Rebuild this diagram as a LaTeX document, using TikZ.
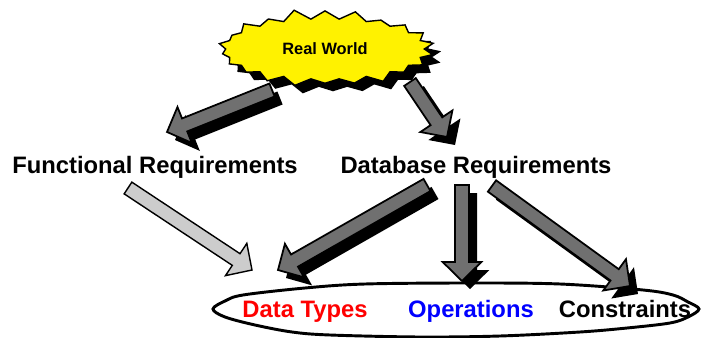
\documentclass[tikz,border=0pt]{standalone}
\usepackage{fontspec}
\setmainfont{Liberation Sans}
\usetikzlibrary{calc,shapes.symbols,shadows}

\definecolor{arrowgray}{RGB}{112,112,112}
\definecolor{palegray}{RGB}{204,204,204}

% block arrow from #2 to #3, drawn with style #1
\newcommand{\blockarrow}[3][bigarrow]{%
  \coordinate (hb) at ($(#3)!0.57cm!(#2)$);
  \path[#1] ($(#2)!0.21cm!90:(#3)$) -- ($(hb)!0.21cm!-90:(#2)$)
    -- ($(hb)!0.58cm!-90:(#2)$) -- (#3) -- ($(hb)!0.58cm!90:(#2)$)
    -- ($(hb)!0.21cm!90:(#2)$) -- ($(#2)!0.21cm!-90:(#3)$) -- cycle;
}

\tikzset{
  blackshadow/.style={drop shadow={shadow xshift=0.24cm, shadow yshift=-0.24cm, opacity=1, fill=black}},
  bigarrow/.style={draw=black, line width=1.5pt, line join=miter, fill=arrowgray, blackshadow},
  lightarrow/.style={draw=black, line width=1.2pt, line join=miter, fill=palegray},
  reqtext/.style={anchor=base, inner sep=0pt, font=\bfseries\fontsize{20.3}{24}\selectfont},
  itemtext/.style={reqtext},
}

\begin{document}
\begin{tikzpicture}[x=0.03cm, y=-0.03cm]
  \useasboundingbox (0,0) rectangle (701,338);

  % outline round the three parts
  \draw[line width=2.5pt, fill=white] plot[smooth cycle, tension=0.55] coordinates {
    (213,309) (225,301) (243,295) (305,288) (365,284) (470,283) (560,284)
    (643,290) (673,295) (688,302) (699,309) (688,317) (670,323) (627,328)
    (580,332) (500,336) (420,337) (330,335) (292,332) (255,325) (225,317)};

  \node[itemtext, red] (types) at (305,317) {Data Types};
  \node[itemtext, blue] (ops) at (471,317) {Operations};
  \node[itemtext] (cons) at (625,317) {Constraints};

  \node[reqtext] (func) at (155,173) {Functional Requirements};
  \node[reqtext] (db) at (476,173) {Database Requirements};

  % arrow ends
  \coordinate (w-func) at (272,90);
  \coordinate (func-in) at (167,132);
  \coordinate (w-db) at (410,82);
  \coordinate (db-in) at (447,137);
  \coordinate (func-out) at (128,188);
  \coordinate (types-in) at (252,270);
  \coordinate (db-types) at (427,185);
  \coordinate (types-db) at (278,270);
  \coordinate (db-ops) at (462,185);
  \coordinate (ops-in) at (462,281);
  \coordinate (db-cons) at (492,186);
  \coordinate (cons-in) at (630,286);

  \blockarrow[lightarrow]{func-out}{types-in}
  \blockarrow{db-types}{types-db}
  \blockarrow{db-ops}{ops-in}
  \blockarrow{db-cons}{cons-in}
  \blockarrow{w-func}{func-in}
  \blockarrow{w-db}{db-in}

  \node[starburst, draw, line width=1.2pt, fill=yellow, blackshadow,
    starburst points=22, starburst point height=0.32cm, random starburst=11,
    minimum width=6.6cm, minimum height=2.45cm,
    font=\bfseries\fontsize{14}{16}\selectfont] (world) at (325,49) {Real World};
\end{tikzpicture}
\end{document}
